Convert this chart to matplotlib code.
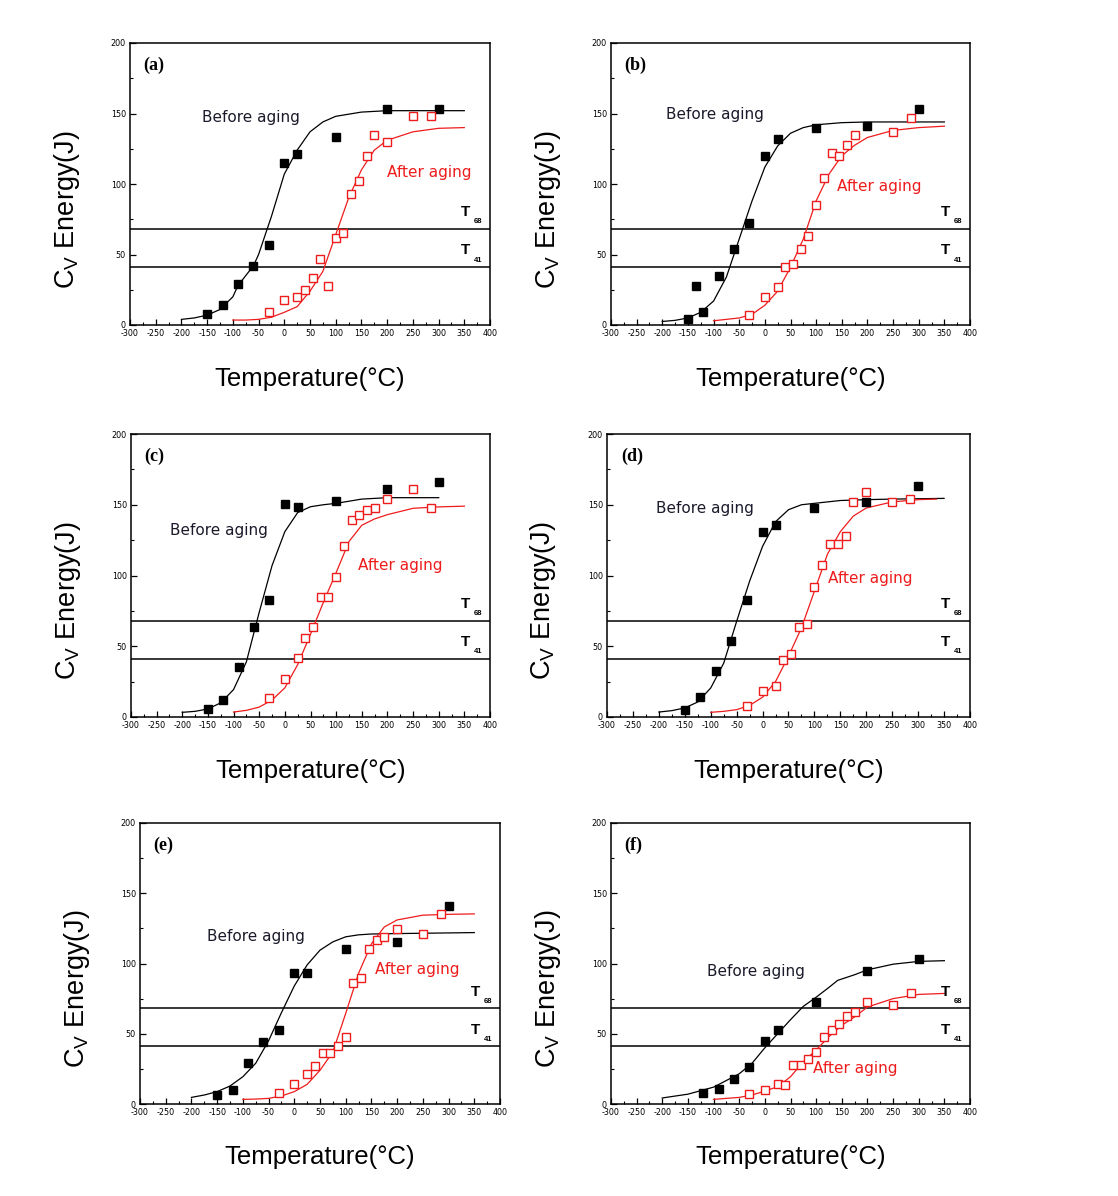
import matplotlib
matplotlib.use("Agg")
import matplotlib.pyplot as plt
from matplotlib.ticker import MultipleLocator

plt.rcParams["axes.unicode_minus"] = False

# ---------------- data ----------------
PANEL_LABELS = ["(a)", "(b)", "(c)", "(d)", "(e)", "(f)"]
T68, T41 = 68, 41

A_BEFORE_T = [-150, -120, -90, -60, -30, 0, 25, 100, 200, 300]
A_BEFORE_E = [8, 14, 29, 42, 57, 115, 121, 133, 153, 153]
A_AFTER_T = [-30, 0, 25, 40, 55, 70, 85, 100, 115, 130, 145, 160, 175, 200, 250, 285]
A_AFTER_E = [9, 18, 20, 25, 33, 47, 28, 62, 65, 93, 102, 120, 135, 130, 148, 148]
A_BEFORE_FIT_T = [-200, -175, -150, -125, -100, -90, -75, -60, -50, -25, 0, 25, 50, 75, 100, 150, 200, 350]
A_BEFORE_FIT_E = [4, 5, 7, 11, 20, 28, 35, 42, 50, 77, 107, 124, 137, 144, 148, 151, 152, 152]
A_AFTER_FIT_T = [-100, -75, -50, -25, 0, 25, 50, 75, 100, 125, 150, 175, 200, 250, 300, 350]
A_AFTER_FIT_E = [3.5, 3.5, 4, 5.5, 9, 13, 24, 38, 64, 90, 110, 124, 131, 137, 139.5, 140]

B_BEFORE_T = [-150, -135, -120, -90, -60, -30, 0, 25, 100, 200, 300]
B_BEFORE_E = [4, 28, 9, 35, 54, 72, 120, 132, 140, 141, 153]
B_AFTER_T = [-30, 0, 25, 40, 55, 70, 85, 100, 115, 130, 145, 160, 175, 250, 285]
B_AFTER_E = [7, 20, 27, 41, 43, 54, 63, 85, 104, 122, 120, 128, 135, 137, 147]
B_BEFORE_FIT_T = [-200, -175, -150, -125, -100, -75, -50, -25, 0, 25, 50, 75, 100, 150, 200, 350]
B_BEFORE_FIT_E = [2.5, 3.3, 5, 9, 17, 34, 61, 88, 112, 127, 136, 140, 142, 143.5, 144, 144]
B_AFTER_FIT_T = [-100, -75, -50, -25, 0, 25, 50, 75, 100, 125, 150, 175, 200, 250, 300, 350]
B_AFTER_FIT_E = [3, 4, 5, 7.6, 14, 24, 41, 61, 88, 107, 120, 127.5, 133, 138, 140, 141]

C_BEFORE_T = [-150, -120, -90, -60, -30, 0, 25, 100, 200, 300]
C_BEFORE_E = [6, 12, 35.5, 63.5, 83, 150.5, 148.6, 152.6, 161, 166]
C_AFTER_T = [-30, 0, 25, 40, 55, 70, 85, 100, 115, 130, 145, 160, 175, 200, 250, 285]
C_AFTER_E = [13.5, 27, 42, 56, 63.5, 84.6, 84.6, 98.8, 121, 139, 142.6, 146, 148, 154, 161, 148]
C_BEFORE_FIT_T = [-200, -175, -150, -125, -100, -75, -50, -25, 0, 25, 50, 75, 100, 150, 200, 300]
C_BEFORE_FIT_E = [3.3, 4, 5.7, 10, 19.4, 39, 74, 107, 131, 144.5, 148.6, 150, 151, 154, 155, 155]
C_AFTER_FIT_T = [-100, -75, -50, -25, 0, 25, 50, 75, 100, 125, 150, 175, 200, 250, 300, 350]
C_AFTER_FIT_E = [3.5, 4.7, 7, 12, 20.6, 37, 58.5, 81, 102, 124, 135.5, 140, 143, 147.5, 148.5, 149]

D_BEFORE_T = [-150, -120, -90, -60, -30, 0, 25, 100, 200, 300]
D_BEFORE_E = [4.7, 14, 32.5, 54, 83, 131, 136, 147.5, 152, 163.5]
D_AFTER_T = [-30, 0, 25, 40, 55, 70, 85, 100, 115, 130, 145, 160, 175, 200, 250, 285]
D_AFTER_E = [8, 18.6, 21.7, 40.5, 44.5, 63.6, 65.7, 92, 107.7, 122, 122, 127.7, 152, 159, 152, 154]
D_BEFORE_FIT_T = [-200, -175, -150, -125, -100, -75, -50, -25, 0, 25, 50, 75, 100, 150, 200, 250, 350]
D_BEFORE_FIT_E = [3.5, 4.5, 6.4, 10.6, 20.5, 38, 67.6, 96, 120.6, 138, 146.5, 150, 151, 153, 153.6, 154, 154.5]
D_AFTER_FIT_T = [-100, -75, -50, -25, 0, 25, 50, 75, 100, 125, 150, 175, 200, 250, 300, 335]
D_AFTER_FIT_E = [3.3, 4, 5.2, 8.2, 14, 25, 43, 63, 89, 115, 131, 142, 147.7, 152, 153.6, 154]

E_BEFORE_T = [-150, -120, -90, -60, -30, 0, 25, 100, 200, 300]
E_BEFORE_E = [6.5, 10, 29, 44, 53, 93, 93, 110, 115, 141]
E_AFTER_T = [-30, 0, 25, 40, 55, 70, 85, 100, 115, 130, 145, 160, 175, 200, 250, 285]
E_AFTER_E = [7.5, 14, 21, 27, 36.5, 36.5, 41.5, 48, 86, 90, 110, 117, 119, 124.4, 121, 135]
E_BEFORE_FIT_T = [-200, -175, -150, -125, -100, -75, -50, -25, 0, 25, 50, 75, 100, 125, 150, 200, 350]
E_BEFORE_FIT_E = [4.7, 6.4, 8.8, 12.8, 19.4, 29, 45, 65, 84, 99, 109.5, 115.4, 119, 120.4, 121, 121.3, 122]
E_AFTER_FIT_T = [-100, -75, -50, -25, 0, 25, 50, 75, 100, 125, 150, 175, 200, 250, 300, 350]
E_AFTER_FIT_E = [3.3, 3.5, 4, 5.7, 8.8, 14, 24, 37, 64.5, 93, 114, 126, 131, 134.4, 135, 135.3]

F_BEFORE_T = [-120, -90, -60, -30, 0, 25, 100, 200, 300]
F_BEFORE_E = [8, 10.5, 17.5, 26.5, 45, 53, 72.7, 94.5, 103]
F_AFTER_T = [-30, 0, 25, 40, 55, 70, 85, 100, 115, 130, 145, 160, 175, 200, 250, 285]
F_AFTER_E = [7, 10, 14, 13.5, 28, 28, 32, 36.7, 48, 53, 56.6, 62.8, 65.6, 72.5, 70.4, 78.7]
F_BEFORE_FIT_T = [-200, -150, -100, -50, -25, 0, 25, 50, 75, 100, 125, 142, 175, 200, 250, 300, 350]
F_BEFORE_FIT_E = [4.3, 7, 12, 21.5, 29, 40, 50, 60, 69.5, 76, 83, 88, 92, 95.5, 99.5, 101.5, 102]
F_AFTER_FIT_T = [-100, -50, -25, 0, 25, 50, 75, 100, 125, 150, 175, 200, 250, 300, 350]
F_AFTER_FIT_E = [3.3, 4.7, 6.4, 9.2, 12.3, 19.4, 30, 38.4, 48, 56, 62, 69, 75, 78, 78.7]

# ---------------- layout / styling ----------------
W, H = 1118, 1196
# axes boxes in pixels: left, top, right, bottom
BOXES = [(130, 43, 490, 325), (611, 43, 970, 325),
         (131, 434, 490, 717), (607, 434, 970, 717),
         (140, 823, 500, 1104), (611, 823, 970, 1104)]
# annotation positions (data coords): before-text, after-text
BEFORE_POS = [(-160, 147), (-193, 149), (-224, 131.5), (-205, 147.7), (-170, 119), (-113, 94)]
AFTER_POS = [(200, 108), (140, 98), (142, 107), (127, 98), (157, 96), (94, 25.6)]

panels = [
    (A_BEFORE_T, A_BEFORE_E, A_AFTER_T, A_AFTER_E, A_BEFORE_FIT_T, A_BEFORE_FIT_E, A_AFTER_FIT_T, A_AFTER_FIT_E),
    (B_BEFORE_T, B_BEFORE_E, B_AFTER_T, B_AFTER_E, B_BEFORE_FIT_T, B_BEFORE_FIT_E, B_AFTER_FIT_T, B_AFTER_FIT_E),
    (C_BEFORE_T, C_BEFORE_E, C_AFTER_T, C_AFTER_E, C_BEFORE_FIT_T, C_BEFORE_FIT_E, C_AFTER_FIT_T, C_AFTER_FIT_E),
    (D_BEFORE_T, D_BEFORE_E, D_AFTER_T, D_AFTER_E, D_BEFORE_FIT_T, D_BEFORE_FIT_E, D_AFTER_FIT_T, D_AFTER_FIT_E),
    (E_BEFORE_T, E_BEFORE_E, E_AFTER_T, E_AFTER_E, E_BEFORE_FIT_T, E_BEFORE_FIT_E, E_AFTER_FIT_T, E_AFTER_FIT_E),
    (F_BEFORE_T, F_BEFORE_E, F_AFTER_T, F_AFTER_E, F_BEFORE_FIT_T, F_BEFORE_FIT_E, F_AFTER_FIT_T, F_AFTER_FIT_E),
]

RED = "#ee1c1c"
fig = plt.figure(figsize=(W / 100, H / 100), dpi=100)

for i, (bt, be, at, ae, bft, bfe, aft, afe) in enumerate(panels):
    l, t, r, b = BOXES[i]
    ax = fig.add_axes([l / W, 1 - b / H, (r - l) / W, (b - t) / H])
    ax.set_xlim(-300, 400)
    ax.set_ylim(0, 200)

    ax.axhline(T68, color="black", lw=1.1, zorder=1)
    ax.axhline(T41, color="black", lw=1.1, zorder=1)

    ax.plot(bft, bfe, color="black", lw=0.9, zorder=2)
    ax.plot(aft, afe, color=RED, lw=0.9, zorder=2)
    ax.plot(bt, be, ls="none", marker="s", ms=6.3, mfc="black", mec="black", zorder=3)
    ax.plot(at, ae, ls="none", marker="s", ms=6.0, mfc="white", mec=RED, mew=1.0, zorder=3)

    ax.text(BEFORE_POS[i][0], BEFORE_POS[i][1], "Before aging", color="#1a1a2a",
            fontsize=11, family="DejaVu Sans", va="center", ha="left")
    ax.text(AFTER_POS[i][0], AFTER_POS[i][1], "After aging", color=RED,
            fontsize=11, family="DejaVu Sans", va="center", ha="left")

    ax.text(0.038, 0.922, PANEL_LABELS[i], transform=ax.transAxes, fontsize=13,
            fontweight="bold", family="Liberation Serif", va="center", ha="left")

    for level in (T68, T41):
        ax.text(0.92, level + 9, "T", transform=ax.get_yaxis_transform(),
                fontsize=11, fontweight="bold", family="Liberation Sans",
                ha="left", va="baseline")
        ax.text(0.955, level + 4, str(level), transform=ax.get_yaxis_transform(),
                fontsize=5.5, fontweight="bold", family="Liberation Sans",
                ha="left", va="baseline")

    ax.xaxis.set_major_locator(MultipleLocator(50))
    ax.xaxis.set_minor_locator(MultipleLocator(25))
    ax.yaxis.set_major_locator(MultipleLocator(50))
    ax.yaxis.set_minor_locator(MultipleLocator(25))
    ax.tick_params(which="major", direction="in", length=4, width=0.9,
                   labelsize=5.8, pad=3, top=False, right=False)
    ax.tick_params(which="minor", direction="in", length=2, width=0.8,
                   top=False, right=False)
    for sp in ax.spines.values():
        sp.set_linewidth(1.1)

    ax.text(-0.175, 0.41, r"$\mathregular{C_V}$ Energy(J)", transform=ax.transAxes,
            rotation=90, fontsize=19.5, family="Liberation Sans", ha="center", va="center")
    ax.text(0.5, -0.19, "Temperature(°C)", transform=ax.transAxes,
            fontsize=18.5, family="Liberation Sans", ha="center", va="center")

fig.savefig("out.png", dpi=100)
